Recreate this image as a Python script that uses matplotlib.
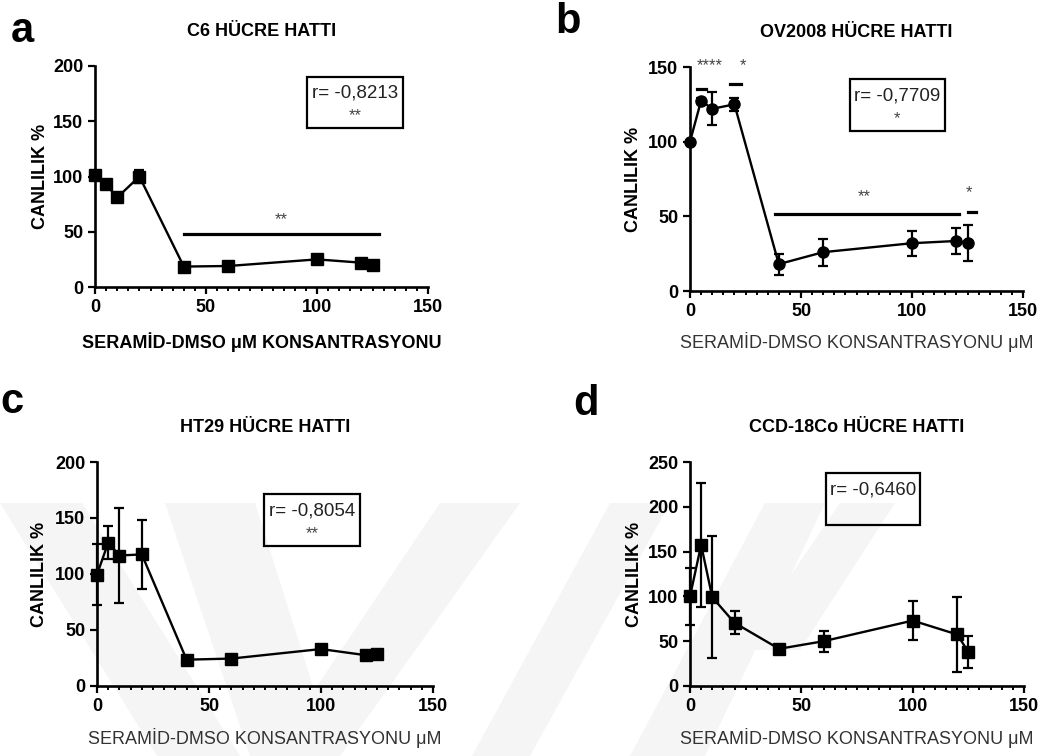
import matplotlib
matplotlib.use("Agg")
import matplotlib.pyplot as plt
from matplotlib.patches import Rectangle, Polygon

plt.rcParams['font.family'] = ['Liberation Sans', 'DejaVu Sans']

# konsantrasyonlar (uM)
doz = [0, 5, 10, 20, 40, 60, 100, 120, 125]

# C6
c6 = [101, 93, 81, 100, 18.5, 19, 25, 22, 19.5]
c6_err = [3, 2, 2, 6, 1, 1, 1.5, 1.5, 1]
# OV2008
ov = [100, 127.5, 122, 125, 18, 26, 32, 33.5, 32]
ov_err = [0, 1.5, 11, 4.5, 7, 9, 8.5, 8.5, 12]
# HT29
ht = [99.5, 128, 116.5, 117.5, 23.5, 24.5, 33, 27.5, 28.5]
ht_err = [27, 15, 42, 31, 1, 1, 1.5, 1, 1]
# CCD-18Co
ccd = [100, 157.5, 99, 70.5, 41.5, 50, 73, 57.5, 38]
ccd_err = [32, 69, 68, 13, 2, 11.5, 22, 42, 18]

W, H = 1047, 756
fig = plt.figure(figsize=(W / 100, H / 100), dpi=100)

# arka plandaki soluk filigran
def px(pts):
    return [(x / W, 1 - y / H) for x, y in pts]

filigran = [
    [(0, 503), (82, 503), (240, 756), (157, 756)],
    [(165, 503), (255, 503), (335, 756), (250, 756)],
    [(270, 756), (340, 756), (520, 503), (440, 503)],
    [(472, 756), (530, 756), (670, 503), (610, 503)],
    [(630, 756), (705, 756), (825, 503), (765, 503)],
    [(740, 650), (800, 650), (895, 503), (840, 503)],
]
for p in filigran:
    fig.add_artist(Polygon(px(p), closed=True, transform=fig.transFigure,
                           facecolor='#f5f5f5', edgecolor='none', zorder=0))


def panel(rect, x, y, err, ymax, marker, msize, title, xlabel, xlabel_bold,
          rtxt, stars, box, ylab_x, xlab_y):
    ax = fig.add_axes([rect[0] / W, 1 - rect[3] / H, (rect[2] - rect[0]) / W,
                       (rect[3] - rect[1]) / H])
    ax.patch.set_alpha(0)
    ax.errorbar(x, y, yerr=err, color='black', marker=marker, markersize=msize,
                linewidth=1.7, elinewidth=1.6, capsize=3.5, capthick=1.6,
                clip_on=False, zorder=3)
    ax.set_xlim(0, 150)
    ax.set_ylim(0, ymax)
    ax.set_xticks([0, 50, 100, 150])
    ax.set_xticks(range(0, 151, 5), minor=True)
    ax.set_yticks(range(0, ymax + 1, 50))
    for s in ['top', 'right']:
        ax.spines[s].set_visible(False)
    for s in ['left', 'bottom']:
        ax.spines[s].set_linewidth(1.9)
    ax.tick_params(which='major', length=5, width=1.6, labelsize=13)
    ax.tick_params(which='minor', length=3, width=1.4)
    for lab in ax.get_xticklabels() + ax.get_yticklabels():
        lab.set_fontweight('bold')
    ax.text(0.5, 1.154, title, transform=ax.transAxes, ha='center',
            va='center', fontsize=13, fontweight='bold')
    ax.text(ylab_x, 0.5, 'CANLILIK %', transform=ax.transAxes, rotation=90,
            ha='center', va='center', fontsize=13, fontweight='bold')
    ax.text(0.5, xlab_y, xlabel, transform=ax.transAxes, ha='center',
            va='center', fontsize=13,
            fontweight='bold' if xlabel_bold else 'normal',
            color='black' if xlabel_bold else '#333333')
    x0, x1, y0, y1 = box
    ax.add_patch(Rectangle((x0, y0), x1 - x0, y1 - y0, fill=False,
                           edgecolor='black', linewidth=1.6, clip_on=False))
    ax.text((x0 + x1) / 2, y0 + (y1 - y0) * 0.68, rtxt, ha='center',
            va='center', fontsize=13.5, color='#222222')
    if stars:
        ax.text((x0 + x1) / 2, y0 + (y1 - y0) * 0.24, stars, ha='center',
                va='center', fontsize=12, color='#444444')
    return ax


ax_a = panel((95, 66, 428, 287), doz, c6, c6_err, 200, 's', 8.5, 'C6 HÜCRE HATTI',
             'SERAMİD-DMSO μM KONSANTRASYONU', True, 'r= -0,8213', '**',
             (95.5, 138.7, 144, 190), -0.165, -0.25)
ax_a.plot([40, 128], [48, 48], color='black', linewidth=2.3)
ax_a.text(84, 61, '**', ha='center', va='center', fontsize=12, color='#444444')

ax_b = panel((690, 67, 1023, 291), doz, ov, ov_err, 150, 'o', 8, 'OV2008 HÜCRE HATTI',
             'SERAMİD-DMSO KONSANTRASYONU μM', False, 'r= -0,7709', '*',
             (72, 114.75, 107.2, 141.8), -0.171, -0.228)
for xa, xb, yy in [(3, 7, 135), (18, 23, 138.5), (38.5, 121, 51.3), (125.3, 128.7, 52.8)]:
    ax_b.plot([xa, xb], [yy, yy], color='black', linewidth=2.3, clip_on=False)
for xx, yy, t in [(9, 151, '****'), (23.7, 151, '*'), (78.7, 63, '**'), (125.5, 66, '*')]:
    ax_b.text(xx, yy, t, ha='center', va='center', fontsize=12, color='#444444',
              clip_on=False)

panel((97, 462, 433, 686), doz, ht, ht_err, 200, 's', 8.5, 'HT29 HÜCRE HATTI',
      'SERAMİD-DMSO KONSANTRASYONU μM', False, 'r= -0,8054', '**',
      (74.7, 117.6, 125, 171), -0.17, -0.232)

panel((690, 462, 1024, 686), doz, ccd, ccd_err, 250, 's', 8.5, 'CCD-18Co HÜCRE HATTI',
      'SERAMİD-DMSO KONSANTRASYONU μM', False, 'r= -0,6460', '',
      (61, 103.3, 179.4, 237.7), -0.165, -0.232)

# panel harfleri
for xx, yy, h in [(22, 42, 'a'), (568, 33, 'b'), (12, 413, 'c'), (586, 415, 'd')]:
    fig.text(xx / W, 1 - yy / H, h, ha='center', va='baseline', fontsize=30,
             fontweight='bold')

fig.savefig('out.png', dpi=100)
